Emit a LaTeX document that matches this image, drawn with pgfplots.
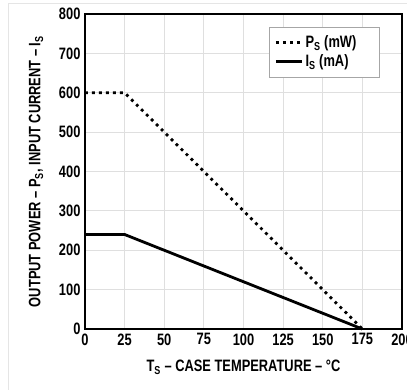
\documentclass[border=0pt]{standalone}
\usepackage{fontspec}
\setmainfont{Liberation Sans}[FakeStretch=0.78,BoldFont={Liberation Sans Bold},BoldFeatures={FakeStretch=0.78}]
\usepackage{pgfplots}
\pgfplotsset{compat=1.18}
\begin{document}
\begin{tikzpicture}
\begin{axis}[
  scale only axis, width=317pt, height=315pt,
  xmin=0, xmax=200, ymin=0, ymax=800,
  xtick={0,25,...,200}, ytick={0,100,...,800},
  grid=major, major grid style={gray!25, line width=0.9pt},
  axis line style={black, line width=1.2pt},
  tick style={draw=none},
  font=\fontsize{16.5}{18}\selectfont\bfseries,
  /pgf/number format/assume math mode=true,
  xticklabel style={yshift=-1pt},
  yticklabel style={xshift=-1pt},
  xlabel={T\textsubscript{S} – CASE TEMPERATURE – °C},
  ylabel={OUTPUT POWER – P\textsubscript{S}, INPUT CURRENT – I\textsubscript{S}},
  xlabel style={yshift=-8pt},
  ylabel style={yshift=9pt},
  legend style={at={(0.93,0.96)}, anchor=north east, draw=gray!70, line width=0.8pt,
     font=\fontsize{16.5}{18}\selectfont\bfseries, inner xsep=5pt, inner ysep=7pt,
     nodes={inner sep=2pt}, row sep=1pt},
  legend cell align=left,
  legend image code/.code={\draw[#1] (0cm,0cm) -- (0.92cm,0cm);},
  clip=false,
]
\addplot[black, line width=2.8pt, dash pattern=on 2.8pt off 4.2pt] coordinates {(0,600) (25,600) (175,0)};
\addlegendentry{P\textsubscript{S} (mW)\hbox to 16pt{}}
\addplot[black, line width=2.8pt] coordinates {(0,240) (25,240) (175,0)};
\addlegendentry{I\textsubscript{S} (mA)}
\end{axis}
\draw[gray!20, line width=0.8pt] (-77pt,-70pt) -- (-77pt,326pt) -- (340pt,326pt);
\pgfresetboundingbox
\path[use as bounding box] (-85pt,-61pt) rectangle (322pt,329pt);
\end{tikzpicture}
\end{document}
